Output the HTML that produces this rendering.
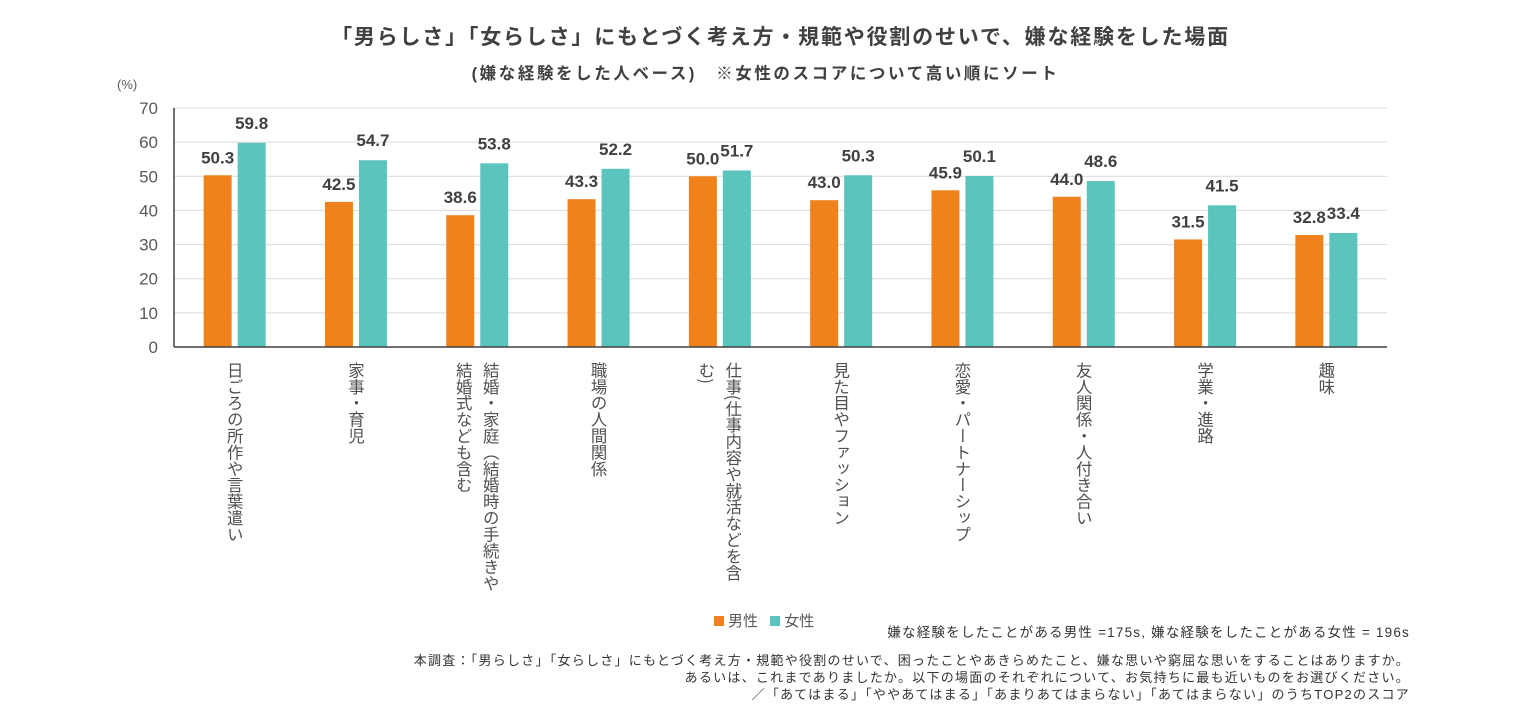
<!DOCTYPE html>
<html><head><meta charset="utf-8">
<style>
body{margin:0;background:#fff;}
#root{position:relative;width:1533px;height:720px;overflow:hidden;font-family:"Liberation Sans","Noto Sans CJK JP",sans-serif;color:#404040;}
.t{position:absolute;white-space:nowrap;}
.vl{position:absolute;top:362px;writing-mode:vertical-rl;font-size:16.4px;line-height:27px;color:#505050;transform:translateX(-50%);white-space:nowrap;font-family:"Noto Sans CJK JP",sans-serif;}
</style></head>
<body>
<div id="root">
<div class="t" style="left:0;width:1561px;text-align:center;top:21px;font-size:21px;letter-spacing:1.8px;font-weight:bold;">「男らしさ」「女らしさ」にもとづく考え方・規範や役割のせいで、嫌な経験をした場面</div>
<div class="t" style="left:0;width:1531px;text-align:center;top:60px;font-size:16.5px;letter-spacing:2.6px;font-weight:bold;">(嫌な経験をした人ベース)　※女性のスコアについて高い順にソート</div>
<div class="t" style="left:117px;top:77px;font-size:13px;color:#595959;">(%)</div>
<svg id="svg" width="1533" height="720" style="position:absolute;left:0;top:0"></svg>
<div id="labels"></div>
<div class="t" style="left:714px;top:610px;font-size:15px;color:#595959;">
<span style="display:inline-block;width:10px;height:10px;background:#f0821e;margin-right:4px"></span><span>男性</span>
<span style="display:inline-block;width:10px;height:10px;background:#5bc4bd;margin:0 4px 0 8px"></span><span>女性</span></div>
<div class="t" style="right:123px;top:621px;font-size:13.5px;letter-spacing:1.2px;color:#333;">嫌な経験をしたことがある男性 =175s, 嫌な経験をしたことがある女性 = 196s</div>
<div class="t" style="right:123px;top:652px;font-size:13px;letter-spacing:1.25px;color:#333;text-align:right;line-height:17px;">本調査：「男らしさ」「女らしさ」にもとづく考え方・規範や役割のせいで、困ったことやあきらめたこと、嫌な思いや窮屈な思いをすることはありますか。<br>あるいは、これまでありましたか。以下の場面のそれぞれについて、お気持ちに最も近いものをお選びください。<br>／「あてはまる」「ややあてはまる」「あまりあてはまらない」「あてはまらない」のうちTOP2のスコア</div>
</div>
<script>
const categories=["日ごろの所作や言葉遣い","家事・育児","結婚・家庭（結婚時の手続きや|結婚式なども含む","職場の人間関係","仕事(仕事内容や就活などを含|む)","見た目やファッション","恋愛・パートナーシップ","友人関係・人付き合い","学業・進路","趣味"];
const maleValues=[50.3,42.5,38.6,43.3,50.0,43.0,45.9,44.0,31.5,32.8];
const femaleValues=[59.8,54.7,53.8,52.2,51.7,50.3,50.1,48.6,41.5,33.4];
const yTicks=[0,10,20,30,40,50,60,70];
const NS="http://www.w3.org/2000/svg";
const svg=document.getElementById('svg');
const L=174,R=1387,T=108,B=347,yMax=70;
const y=v=>B-(B-T)*v/yMax;
const bw=(R-L)/categories.length;
const cx=i=>L+bw*(i+0.5);
function mk(tag,attrs){const e=document.createElementNS(NS,tag);for(const k in attrs)e.setAttribute(k,attrs[k]);svg.appendChild(e);return e;}
yTicks.forEach(t=>{
 if(t>0){const g=mk('line',{x1:L,x2:R,y1:y(t),y2:y(t),stroke:'#d9d9d9','stroke-width':1});
 
 }
 const tx=mk('text',{x:158,y:y(t)+6,'text-anchor':'end','font-size':17,fill:'#595959','font-family':'Liberation Sans, sans-serif'});
 tx.textContent=t;
 
 
});
categories.forEach((c,i)=>{
 const series=[[maleValues[i],'#f0821e',-31,'bar-male'],[femaleValues[i],'#5bc4bd',3,'bar-female']];
 series.forEach(s=>{
  const r=mk('rect',{x:cx(i)+s[2],y:y(s[0]),width:28,height:B-y(s[0]),fill:s[1]});
  
  
  const lab=mk('text',{x:cx(i)+s[2]+14,y:y(s[0])-(s[3]==='bar-male'?12:14),'text-anchor':'middle','font-size':17,'font-weight':'bold',fill:'#404040','font-family':'Liberation Sans, sans-serif'});
  lab.textContent=s[0].toFixed(1);
  
  
 });
 const d=document.createElement('div');
 d.className='vl';
 d.style.left=cx(i)+'px';
 d.innerHTML=c.split('|').join('<br>');
 
 
 document.getElementById('labels').appendChild(d);
});
const ax=mk('line',{x1:L,x2:L,y1:T,y2:B,stroke:'#404040','stroke-width':1.5});


const bx=mk('line',{x1:L,x2:R,y1:B,y2:B,stroke:'#404040','stroke-width':1.5});


</script>
</body></html>
